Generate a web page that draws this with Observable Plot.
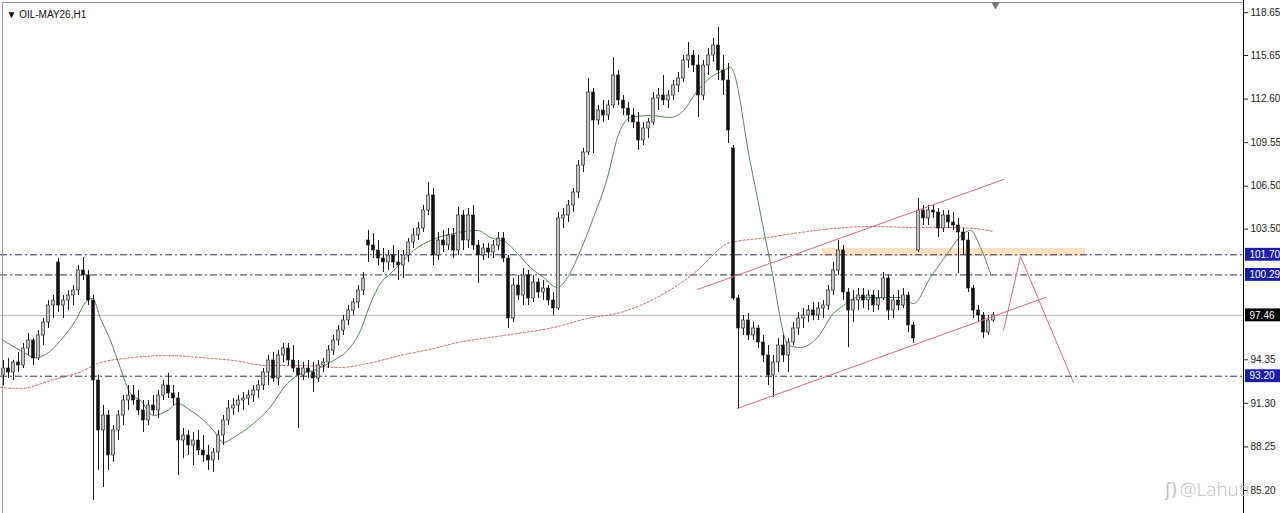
<!DOCTYPE html>
<html>
<head>
<meta charset="utf-8">
<script src="https://cdn.jsdelivr.net/npm/d3@7"></script>
<script src="https://cdn.jsdelivr.net/npm/@observablehq/plot@0.6"></script>
<style>
  html, body { margin: 0; padding: 0; background: #fff; }
  #chart { width: 1280px; height: 513px; overflow: hidden; }
</style>
</head>
<body>
<div id="chart"></div>
<script>
// ---- Data (OIL-MAY26, H1) ----
const symbolLabel = "\u25BC OIL-MAY26,H1";
const highs = [
 94.30,94.44,94.30,94.86,95.49,96.19,95.84,96.40,97.24,98.50,
 98.85,101.44,98.85,99.20,99.55,100.95,101.51,100.60,98.85,93.25,
 91.15,90.80,89.75,90.80,91.85,92.55,92.55,92.20,91.50,91.50,
 91.85,92.20,92.90,93.39,92.55,92.06,89.54,89.40,89.26,89.40,
 89.05,88.35,88.14,89.40,90.45,91.50,91.64,91.85,92.06,92.20,
 92.55,92.90,93.74,94.65,94.86,95.00,95.49,95.49,95.35,94.30,
 94.16,94.30,94.16,94.30,94.44,95.35,96.05,96.75,97.45,98.15,
 98.64,99.55,100.46,103.40,103.19,102.70,102.14,102.00,102.35,102.00,
 102.00,102.84,103.54,103.96,105.15,106.76,106.34,103.26,103.40,103.54,
 103.54,105.01,104.80,104.94,105.15,102.70,102.49,102.49,102.70,103.26,
 103.26,101.65,100.04,100.25,100.74,100.60,100.25,100.04,99.90,99.55,
 99.06,104.66,104.94,105.50,106.34,108.30,109.14,114.04,113.34,112.15,
 112.50,112.50,115.51,114.60,112.85,112.36,111.94,111.66,110.96,111.24,
 113.06,113.34,114.25,113.20,113.90,114.46,115.65,116.56,116.00,115.65,
 115.30,116.14,116.84,117.61,115.65,115.09,109.35,98.85,97.45,97.59,
 96.96,96.75,96.05,95.35,94.65,95.84,96.05,95.84,96.96,97.66,
 97.94,98.15,98.36,98.36,98.50,99.55,101.16,102.70,102.35,99.34,
 99.20,99.34,99.34,99.20,99.20,99.20,100.46,100.25,98.85,99.20,
 99.34,99.06,96.96,105.64,105.15,105.15,105.15,104.94,104.80,104.80,
 104.66,104.24,103.54,103.26,99.55,98.15,97.66,97.45,97.66
];
const lows = [
 92.55,93.04,92.90,93.46,93.74,94.65,93.95,94.30,95.35,96.54,
 97.24,97.66,97.24,97.80,98.15,98.85,99.90,98.15,84.50,86.60,
 85.41,86.60,87.16,88.70,89.75,90.80,91.15,90.45,89.26,89.75,
 90.45,90.24,91.50,91.64,91.15,86.25,87.44,87.65,86.95,87.65,
 87.16,86.60,86.46,87.30,88.35,89.75,90.45,90.66,90.80,91.15,
 91.36,91.64,92.20,92.55,92.76,92.55,94.16,93.95,93.46,89.54,
 92.90,93.04,92.06,92.76,93.46,93.74,94.65,95.35,96.05,96.75,
 97.45,97.94,98.85,101.16,101.44,100.95,100.46,100.60,100.74,99.90,
 100.04,101.16,102.14,102.70,103.26,104.45,100.95,101.30,101.86,102.00,
 101.44,101.65,102.00,102.14,102.00,99.69,101.30,101.44,101.44,102.00,
 101.16,96.54,96.96,98.50,98.15,98.15,98.36,98.64,98.50,98.15,
 97.45,97.80,103.54,103.96,104.66,105.64,107.46,108.65,108.79,110.75,
 110.96,111.10,111.94,112.15,111.45,110.96,110.54,109.00,109.35,109.84,
 110.75,111.80,112.15,111.94,112.50,113.06,113.76,114.74,114.46,111.31,
 112.50,114.25,115.16,113.90,112.85,109.49,98.50,90.94,96.05,95.70,
 95.70,95.14,94.16,92.55,91.71,93.46,94.16,93.46,95.35,96.05,
 96.54,96.96,97.10,97.10,97.24,97.80,98.85,100.25,98.50,95.21,
 96.96,97.80,97.94,97.80,97.66,97.80,98.50,97.10,97.24,97.80,
 97.94,96.26,95.49,101.86,103.75,103.75,104.24,102.91,103.26,103.54,
 103.40,100.39,101.65,99.06,97.24,96.96,95.84,96.05,96.96
];
const closes = [
 93.74,93.46,94.16,93.95,95.14,95.70,94.44,96.05,96.96,98.15,
 98.50,98.15,98.50,98.85,99.20,100.60,100.25,98.50,92.90,89.40,
 90.45,87.65,89.40,90.45,91.50,91.85,91.50,90.80,90.10,91.15,
 90.80,91.85,92.55,91.99,91.64,88.70,89.05,88.35,88.70,88.00,
 87.65,87.30,87.86,89.05,90.10,90.94,91.15,91.50,91.64,91.85,
 92.20,92.55,93.46,94.30,93.04,94.65,95.14,94.30,93.74,93.25,
 93.74,93.46,93.04,93.95,94.16,95.00,95.70,96.40,97.10,97.80,
 98.36,99.20,100.04,102.35,102.00,101.44,101.16,101.65,101.16,100.95,
 101.65,102.56,103.05,103.54,104.80,105.85,101.65,102.70,102.35,103.05,
 102.00,104.45,102.70,104.45,102.35,101.65,102.14,101.86,102.35,102.84,
 101.44,97.24,99.55,98.85,100.25,98.64,99.76,99.06,99.34,98.50,
 97.94,104.24,104.45,105.15,106.06,107.95,108.86,113.06,111.10,111.80,
 111.45,112.15,114.25,112.50,111.94,111.45,110.96,109.70,110.54,110.96,
 112.64,112.85,112.50,112.85,113.55,114.04,115.30,115.65,114.95,112.85,
 114.95,115.65,116.35,114.60,113.90,110.40,98.64,96.54,97.10,96.05,
 96.54,95.56,94.65,93.25,94.16,95.35,94.65,95.56,96.54,97.24,
 97.45,97.80,97.45,97.94,98.15,99.20,100.60,102.00,99.06,97.80,
 98.50,98.85,98.50,98.85,98.15,98.64,100.04,97.80,98.50,98.15,
 98.85,96.75,95.84,104.80,104.24,104.80,104.66,103.54,104.45,103.96,
 103.75,103.26,102.70,99.34,97.80,97.45,96.26,97.10,97.46
];
// bars whose open is not the previous close (session gaps)
const gapOpens = {0: 93.25, 11: 101.16, 73: 102.70, 146: 109.14, 183: 102.00};

// fast MA (green) read at bar positions
const maFastBars = [0,3.4,6.4,8.4,11.4,14.4,16.4,17.8,19.4,21.4,23.4,25.4,27.4,30,32.8,34.8,37.4,39.4,42,44,46,50,52.8,56.8,59.4,62,66,68.8,71.4,73.4,75.4,77.4,79.4,82,85.4,90,94.8,97.4,100.8,102.8,105.4,108,110.8,112.8,115.4,118,120.8,122.8,125.4,129.4,133.4,136,138.8,141.4,144,145.4,149.4,153.4,157,159.4,162.8,166,168,170.8,176.8,179.4,182,185.4,188.8,192,193.4,195.4,197.4];
const maFastVals = [95.70,95.00,94.51,94.72,95.70,97.10,98.36,98.64,97.24,95.70,93.74,91.99,91.50,90.45,90.80,91.29,90.80,90.31,89.40,88.56,88.91,89.89,90.80,92.69,93.39,93.60,94.30,95.00,96.40,98.29,99.69,100.39,101.09,102.00,102.70,103.19,103.40,102.91,102.49,101.79,100.81,100.11,99.41,100.11,102.00,104.31,107.11,109.91,111.31,111.45,111.31,111.80,113.20,114.11,114.60,114.81,108.09,101.09,95.35,95.21,95.91,97.59,98.15,98.71,98.71,98.71,98.29,100.11,101.79,103.19,103.40,102.21,100.39];
// slow MA (red dotted)
const maSlowBars = [-0.6,3.4,9.4,16,18.8,26,32.8,39.4,46,52.8,59.4,67.4,72.8,79.4,86,90,100,110,116.8,123.4,131.4,139.4,142.4,144.8,152.8,159.4,166,174,182,188.8,194,198];
const maSlowVals = [92.41,92.34,92.90,93.60,94.09,94.51,94.65,94.51,94.30,93.95,93.95,93.81,94.09,94.65,95.14,95.49,96.05,96.61,97.24,97.66,98.85,100.81,101.86,102.49,102.91,103.26,103.54,103.68,103.61,103.61,103.54,103.33];

// drawn objects
const upperChannel = [{bar: 138.8, price: 99.27}, {bar: 200, price: 106.97}];
const lowerChannel = [{bar: 146.8, price: 90.94}, {bar: 208.4, price: 98.71}];
const projection = [{bar: 200, price: 96.40}, {bar: 203.4, price: 101.58}, {bar: 214, price: 92.76}];
const zone = [{bar1: 163.8, bar2: 216.4, lo: 101.58, hi: 102.14}];
const levels = [101.70, 100.29, 93.20];
const bid = 97.46;
const yTicks = [118.65, 115.65, 112.60, 109.55, 106.50, 103.50, 94.35, 91.30, 88.25, 85.20];
const tags = [
  {v: 101.70, bg: "#1c1ca8"},
  {v: 100.29, bg: "#1c1ca8"},
  {v: 97.46, bg: "#000000"},
  {v: 93.20, bg: "#1c1ca8"}
];
const watermark = "@Lahuti";

// ---- build tables ----
const candles = closes.map((c, i) => ({
  i,
  open: gapOpens[i] !== undefined ? gapOpens[i] : closes[i - 1],
  high: highs[i],
  low: lows[i],
  close: c
}));
candles.forEach(d => d.bull = d.close >= d.open);
const maFast = maFastBars.map((b, k) => ({bar: b, v: maFastVals[k]}));
const maSlow = maSlowBars.map((b, k) => ({bar: b, v: maSlowVals[k]}));

const xMin = -0.6, xMax = 248;
const chart = Plot.plot({
  width: 1280,
  height: 513,
  marginLeft: 0,
  marginRight: 37,
  marginTop: 0,
  marginBottom: 0,
  style: {fontFamily: "'Liberation Sans', 'DejaVu Sans', sans-serif", fontSize: "10px", color: "#222", background: "#fff", overflow: "visible"},
  x: {domain: [xMin, xMax], axis: null},
  y: {domain: [83.59, 119.5], axis: "right", ticks: yTicks, tickFormat: d => d.toFixed(2), tickSize: 4, tickPadding: 3, label: null},
  marks: [
    Plot.rect(zone, {x1: "bar1", x2: "bar2", y1: "lo", y2: "hi", fill: "#f8c890", fillOpacity: 0.55}),
    Plot.ruleY([bid], {stroke: "#b4b4b4", strokeWidth: 1}),
    Plot.ruleY(levels, {stroke: "#2e2e5c", strokeWidth: 1, strokeDasharray: "7,3,2,3"}),
    Plot.line(maSlow, {x: "bar", y: "v", stroke: "#c26262", strokeWidth: 1, strokeDasharray: "2,2", curve: "monotone-x"}),
    Plot.line(maFast, {x: "bar", y: "v", stroke: "#4f8a4f", strokeWidth: 1, curve: "monotone-x"}),
    Plot.ruleX(candles, {x: "i", y1: "low", y2: "high", stroke: "#1a1a1a", strokeWidth: 1}),
    Plot.rect(candles, {
      x1: d => d.i - 0.3, x2: d => d.i + 0.3,
      y1: "open", y2: "close",
      fill: d => d.bull ? "#c4c4c4" : "#111",
      stroke: "#1a1a1a", strokeWidth: 0.6
    }),
    Plot.line(upperChannel, {x: "bar", y: "price", stroke: "#d46a80", strokeWidth: 1}),
    Plot.line(lowerChannel, {x: "bar", y: "price", stroke: "#d46a80", strokeWidth: 1}),
    Plot.line(projection, {x: "bar", y: "price", stroke: "#d46a80", strokeWidth: 1}),
    Plot.frame({stroke: "#9a9a9a", insetLeft: 2, insetTop: 2}),
    Plot.ruleX([xMax], {stroke: "#000", strokeWidth: 1}),
    Plot.rect(tags, {x1: xMax + 0.4, x2: xMax + 7.4, y1: d => d.v - 0.45, y2: d => d.v + 0.45, fill: "bg"}),
    Plot.text(tags, {x: xMax + 0.4, y: "v", text: d => d.v.toFixed(2), fill: "#fff", textAnchor: "start", dx: 4, fontSize: 10}),
    Plot.dot([198.4], {x: d => d, frameAnchor: "top", dy: 4, symbol: "triangle", r: 3.2, fill: "#777", rotate: 180}),
    Plot.text([symbolLabel], {frameAnchor: "top-left", dx: 6, dy: 10, textAnchor: "start", fill: "#111", fontSize: 10}),
    Plot.text([watermark], {frameAnchor: "bottom-right", dx: 6, dy: -18, textAnchor: "end", fill: "#bdbdbd", fontSize: 19, fontFamily: "'Open Sans', sans-serif", fontWeight: 300}),
    Plot.text(["\u0283)"], {frameAnchor: "bottom-right", dx: -66, dy: -18, textAnchor: "end", fill: "#bdbdbd", fontSize: 17, fontFamily: "'DejaVu Sans', sans-serif"})
  ]
});
document.getElementById("chart").appendChild(chart);
</script>
</body>
</html>
